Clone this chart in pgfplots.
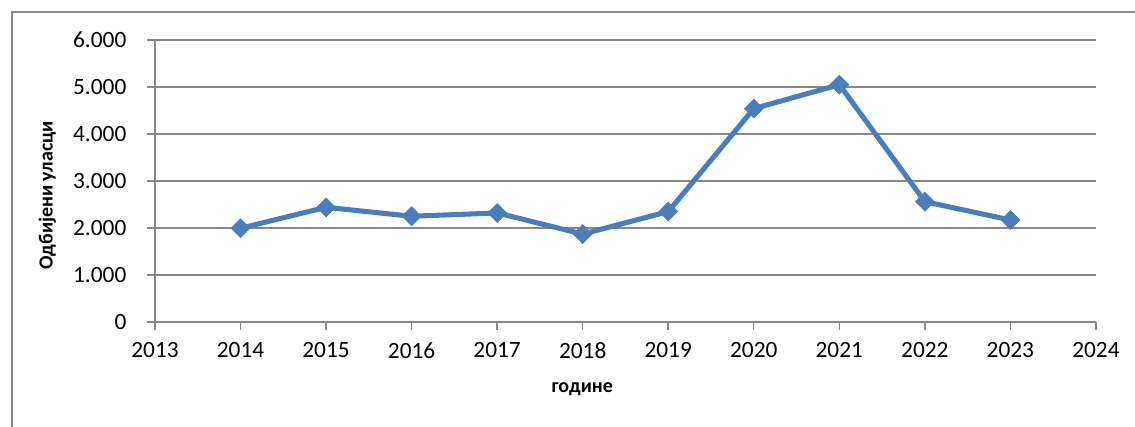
\documentclass[border=0pt]{standalone}
\usepackage{fontspec}
\setmainfont{Carlito}
\usepackage{pgfplots}
\pgfplotsset{compat=1.18}

\definecolor{lineblue}{HTML}{4A7EBB}
\definecolor{gridgray}{HTML}{888888}

\begin{document}
\begin{tikzpicture}[x=0.75pt,y=0.75pt]
% page = 1135 x 426 px, axis origin at px (155,322)
\useasboundingbox (-155,-104) rectangle (980,322);
\draw[gridgray, line width=1pt] (-143,-110) -- (-143,310) -- (990,310);
\begin{axis}[
  at={(0,0)}, anchor=origin,
  scale only axis,
  width=705.75pt, height=211.5pt,
  xmin=2013, xmax=2024, ymin=0, ymax=6000,
  xtick={2013,...,2024}, ytick={0,1000,...,6000},
  axis x line*=bottom, axis y line*=left,
  axis line style={gridgray, line width=1.1pt, -},
  tick style={gridgray, line width=1.1pt},
  tick align=outside, major tick length=6pt,
  ymajorgrids, grid style={gridgray, line width=1.1pt},
  ticklabel style={font=\fontsize{17.5}{20}\selectfont},
  /pgf/number format/assume math mode=true,
  yticklabel style={/pgf/number format/1000 sep={.}, xshift=-12pt},
  xticklabel style={/pgf/number format/1000 sep={}, yshift=-6pt},
  xlabel={\textbf{године}},
  ylabel={\textbf{Одбијени уласци}},
  label style={font=\fontsize{15}{18}\selectfont},
  xlabel style={at={(ticklabel cs:0.454)}, yshift=-11pt},
  ylabel style={at={(ticklabel cs:0.45)}, yshift=6pt},
  clip=false,
]
\addplot[lineblue, line width=3.8pt, mark=square*, mark size=5pt,
  mark options={rotate=45, solid, fill=lineblue, draw=lineblue, line width=0.5pt}]
  coordinates {
  (2014,1995) (2015,2440) (2016,2250) (2017,2320) (2018,1870)
  (2019,2350) (2020,4540) (2021,5050) (2022,2560) (2023,2170)
};
\end{axis}
\end{tikzpicture}
\end{document}
